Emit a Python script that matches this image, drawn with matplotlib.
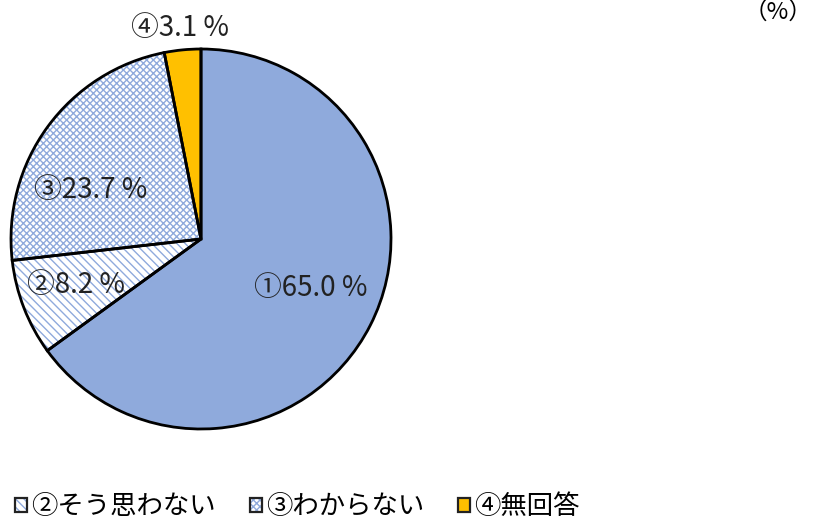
import matplotlib
matplotlib.use('Agg')
import matplotlib.pyplot as plt
from matplotlib.patches import Patch

plt.rcParams['font.family'] = ['Noto Sans CJK JP', 'DejaVu Sans']
plt.rcParams['hatch.linewidth'] = 1.0

# data
labels = ['①そう思う', '②そう思わない', '③わからない', '④無回答']
values = [65.0, 8.2, 23.7, 3.1]
value_text = ['①65.0 %', '②8.2 %', '③23.7 %', '④3.1 %']
face_colors = ['#8FAADC', 'white', 'white', '#FFC000']
hatches = [None, '\\\\\\\\', 'xxxxx', None]
hatch_color = '#8FAADC'
# label spots (x, y in pie radius units)
label_pos = [(0.58, -0.26), (-0.66, -0.24), (-0.58, 0.26), (-0.11, 1.11)]

fig = plt.figure(figsize=(8.14, 5.21), dpi=100)
ax = fig.add_axes([11 / 814, 92 / 521, 380 / 814, 380 / 521])

# hatched fill layer
fills, _ = ax.pie(values, startangle=90, counterclock=False, radius=1,
                  colors=face_colors, wedgeprops=dict(linewidth=0))
for w, h in zip(fills, hatches):
    if h:
        w.set_edgecolor(hatch_color)
        w.set_hatch(h)
# outline layer
outline, _ = ax.pie(values, startangle=90, counterclock=False, radius=1,
                    colors=['none'] * 4,
                    wedgeprops=dict(edgecolor='black', linewidth=2))
ax.set_xlim(-1.0, 1.0)
ax.set_ylim(-1.0, 1.0)
ax.set_aspect('equal')
ax.axis('off')

for t, (x, y) in zip(value_text, label_pos):
    ax.text(x, y, t, ha='center', va='center', fontsize=20, color='#222222')

fig.text(812 / 814, 0.976, '（%）', ha='right', va='center', fontsize=17)

# legend (first entry falls outside the figure in the reference)
handles = []
for fc, h in zip(face_colors[1:], hatches[1:]):
    if h:
        p = Patch(facecolor=fc, edgecolor=hatch_color, hatch=h, linewidth=0)
    else:
        p = Patch(facecolor=fc, linewidth=0)
    o = Patch(facecolor='none', edgecolor='#222222', linewidth=1.6)
    handles.append((p, o))
fig.legend(handles, labels[1:], loc='center left', bbox_to_anchor=(15 / 814, 0.027),
           ncol=3, frameon=False, fontsize=19, handlelength=0.45, handleheight=0.45,
           handletextpad=0.15, columnspacing=1.3, borderaxespad=0, borderpad=0)

fig.savefig('out.png', dpi=100)
